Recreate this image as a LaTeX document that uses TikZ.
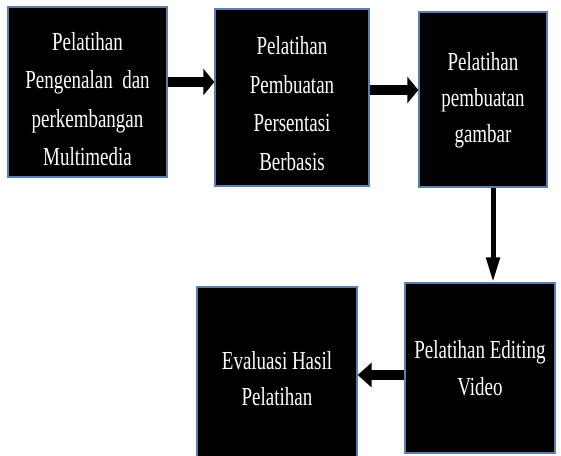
\documentclass[tikz,border=0pt]{standalone}
\usepackage{fontspec}
\setmainfont[FakeStretch=0.73]{Liberation Serif}
\usetikzlibrary{arrows.meta}
\definecolor{boxedge}{HTML}{5A7FAE}
\tikzset{
  flowbox/.style={draw=boxedge, line width=1.3pt, fill=black, inner sep=0pt},
  flowtext/.style={text=white, align=center, inner sep=0pt},
  thick arrow/.style={line width=9.5pt, -{Triangle[length=11pt,width=26pt]}},
  thin arrow/.style={line width=5pt, -{Triangle[length=25pt,width=13pt]}}
}
\begin{document}
\begin{tikzpicture}[x=1pt,y=-1pt]
\useasboundingbox (0,0) rectangle (561,455);
\fill[white] (0,0) rectangle (561,455);
\clip (0,0) rectangle (561,455);
% boxes
\node[flowbox, minimum width=159pt, minimum height=170pt] (b1) at (87.5,92) {};
\node[flowbox, minimum width=154pt, minimum height=177pt] (b2) at (292,97.5) {};
\node[flowbox, minimum width=128pt, minimum height=175pt] (b3) at (483,99.5) {};
\node[flowbox, minimum width=160pt, minimum height=178pt] (b4) at (277,376) {};
\node[flowbox, minimum width=150pt, minimum height=170pt] (b5) at (480,368) {};
% texts
\node[flowtext, font=\fontsize{26}{38.5}\selectfont] (t1) at ([yshift=-7pt]b1.center)
  {Pelatihan\\Pengenalan\ \ dan\\perkembangan\\Multimedia};
\node[flowtext, font=\fontsize{26}{38.5}\selectfont] (t2) at ([yshift=-6pt]b2.center)
  {Pelatihan\\Pembuatan\\Persentasi\\Berbasis};
\node[flowtext, font=\fontsize{26}{36}\selectfont] (t3) at ([yshift=-1pt]b3.center)
  {Pelatihan\\pembuatan\\gambar};
\node[flowtext, font=\fontsize{26}{36}\selectfont] (t4) at ([yshift=-3pt]b4.center)
  {Evaluasi Hasil\\Pelatihan};
\node[flowtext, font=\fontsize{26}{37}\selectfont] (t5) at (b5.center)
  {Pelatihan Editing\\Video};
% connectors
\draw[thick arrow] (b1.east |- 0,82) -- (b2.west |- 0,82);
\draw[thick arrow] (b2.east |- 0,90) -- (b3.west |- 0,90);
\draw[thin arrow] (b3.south -| 493,0) -- (b5.north -| 493,0);
\draw[thick arrow, -{Triangle[length=14pt,width=24pt]}] (b5.west |- 0,375) -- (b4.east |- 0,375);
\end{tikzpicture}
\end{document}
